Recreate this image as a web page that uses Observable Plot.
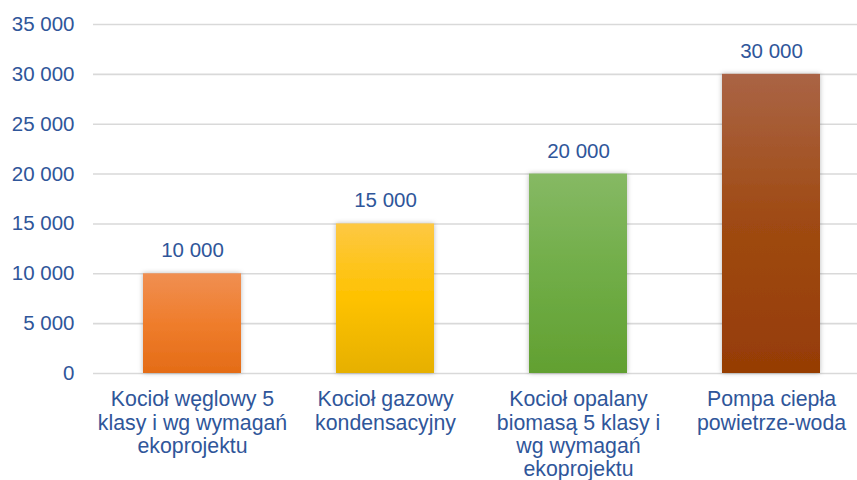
<!DOCTYPE html>
<html><head><meta charset="utf-8">
<script src="https://cdn.jsdelivr.net/npm/d3@7"></script>
<script src="https://cdn.jsdelivr.net/npm/@observablehq/plot@0.6"></script>
<style>body{margin:0;background:#fff}#chart svg{display:block}</style>
</head><body><div id="chart"></div>
<script>
const categories = [
  "Kocioł węglowy 5\nklasy i wg wymagań\nekoprojektu",
  "Kocioł gazowy\nkondensacyjny",
  "Kocioł opalany\nbiomasą 5 klasy i\nwg wymagań\nekoprojektu",
  "Pompa ciepła\npowietrze-woda"
];
const values = [10000, 15000, 20000, 30000];
const yTicks = [0, 5000, 10000, 15000, 20000, 25000, 30000, 35000];

const topColors = ["#f08f52", "#fdc843", "#86b964", "#aa6445"];
const midColors = ["#ef7d2c", "#fec200", "#70ad47", "#9f4a12"];
const bottomColors = ["#e46c17", "#e6b000", "#62a031", "#963c05"];

const data = categories.map((c, i) => ({category: c, value: values[i]}));
const fmt = d3.formatLocale({decimal: ",", thousands: " ", grouping: [3], currency: ["", ""]}).format(",d");
const textColor = "#2f569a";
const font = "'Liberation Sans', Arial, sans-serif";

const defs = () => {
  const g = d3.create("svg:g");
  const d = g.append("defs");
  categories.forEach((c, i) => {
    const lg = d.append("linearGradient").attr("id", "grad" + i)
      .attr("x1", 0).attr("y1", 0).attr("x2", 0).attr("y2", 1);
    lg.append("stop").attr("offset", "0%").attr("stop-color", topColors[i]);
    lg.append("stop").attr("offset", "50%").attr("stop-color", midColors[i]);
    lg.append("stop").attr("offset", "100%").attr("stop-color", bottomColors[i]);
  });
  const f = d.append("filter").attr("id", "shadow")
    .attr("x", "-20%").attr("y", "-20%").attr("width", "140%").attr("height", "140%");
  f.append("feDropShadow").attr("dx", 0).attr("dy", 0).attr("stdDeviation", 2.5)
    .attr("flood-color", "#000").attr("flood-opacity", 0.28);
  return g.node();
};

const chart = Plot.plot({
  width: 857,
  height: 480,
  marginLeft: 93,
  marginRight: 0,
  marginTop: 24,
  marginBottom: 107,
  style: {fontFamily: font, fontSize: "20px", color: textColor, background: "#fff"},
  x: {domain: categories, range: [95, 868], paddingInner: 0.49, paddingOuter: 0.245, label: null},
  y: {domain: [0, 35000], label: null},
  color: {domain: categories, range: categories.map((c, i) => `url(#grad${i})`)},
  marks: [
    defs,
    Plot.gridY(yTicks, {stroke: "#d9d9d9", strokeOpacity: 1, strokeWidth: 1.6}),
    Plot.axisY(yTicks, {tickSize: 0, tickPadding: 19, tickFormat: fmt, fill: textColor, fontSize: 20.5, label: null}),
    Plot.axisX({tickSize: 0, tickPadding: 16, fill: textColor, fontSize: 21.3, lineHeight: 1.1, label: null}),
    Plot.barY(data, {x: "category", y: "value", fill: "category"}),
    Plot.text(data, {x: "category", y: "value", text: d => fmt(d.value), dy: -23, fill: textColor, fontSize: 20.5})
  ]
});
d3.select(chart).selectAll('g[aria-label="bar"] rect').attr("filter", "url(#shadow)");
document.getElementById("chart").appendChild(chart);
</script>
</body></html>
